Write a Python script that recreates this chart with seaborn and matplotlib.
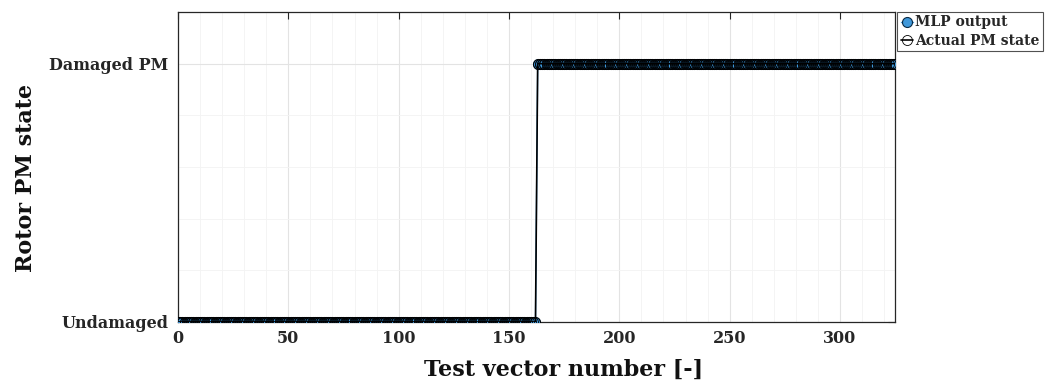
import numpy as np
import pandas as pd
import matplotlib
matplotlib.use("Agg")
import matplotlib.pyplot as plt
from matplotlib.ticker import MultipleLocator
import seaborn as sns

# Test vectors and rotor permanent-magnet states (0 = undamaged, 1 = damaged)
test_vector = list(range(326))
actual_state = [0] * 163 + [1] * 163
mlp_output = [0] * 163 + [1] * 163
state_labels = ["Undamaged", "Damaged PM"]
x_ticks = [0, 50, 100, 150, 200, 250, 300]

sns.set_style("white")
plt.rcParams["font.family"] = ["DejaVu Serif"]
plt.rcParams["font.weight"] = "bold"

df = pd.DataFrame({"x": test_vector, "actual": actual_state, "mlp": mlp_output})

fig = plt.figure(figsize=(10.47, 3.87), dpi=100)
ax = fig.add_axes([0.170, 0.168, 0.685, 0.801])

sns.lineplot(data=df, x="x", y="mlp", ax=ax, color="#3f98da", lw=1.0,
             marker="o", markersize=7.2, markerfacecolor="#3f98da",
             markeredgecolor="#0a2a44", markeredgewidth=0.8,
             label="MLP output", zorder=3)
sns.lineplot(data=df, x="x", y="actual", ax=ax, color="black", lw=1.2,
             marker="o", markersize=7.2, markerfacecolor="none",
             markeredgecolor="black", markeredgewidth=0.6,
             label="Actual PM state", zorder=4)

ax.set_xlim(0, 325)
ax.set_ylim(0, 1.2)
ax.set_xticks(x_ticks)
ax.set_yticks([0, 1])
ax.set_yticklabels(state_labels)
ax.xaxis.set_minor_locator(MultipleLocator(10))
ax.yaxis.set_minor_locator(MultipleLocator(0.2))
ax.grid(True, which="major", color="#e3e3e3", lw=0.8)
ax.grid(True, which="minor", color="#f3f3f3", lw=0.6)
ax.set_axisbelow(True)

ax.tick_params(which="major", direction="in", length=5, width=0.8,
               top=True, right=True, labelsize=11.5, colors="#262626")
ax.tick_params(axis="x", which="major", pad=6)
ax.tick_params(axis="y", which="major", pad=7)
ax.tick_params(which="minor", length=0)
for lbl in ax.get_xticklabels() + ax.get_yticklabels():
    lbl.set_fontweight("bold")

for sp in ax.spines.values():
    sp.set_color("#262626")
    sp.set_linewidth(0.9)

ax.set_xlabel("Test vector number [-]", fontsize=16, fontweight="bold",
              color="#111111")
ax.set_ylabel("Rotor PM state", fontsize=16, fontweight="bold",
              color="#111111")
ax.xaxis.set_label_coords(0.537, -0.118)
ax.yaxis.set_label_coords(-0.197, 0.465)

leg = ax.legend(loc="upper left", bbox_to_anchor=(1.003, 1.0),
                frameon=True, fancybox=False, fontsize=10,
                handlelength=0.9, handletextpad=0.1, borderpad=0.25,
                labelspacing=0.3, borderaxespad=0.0)
leg.get_frame().set_edgecolor("#262626")
leg.get_frame().set_linewidth(0.8)
for t in leg.get_texts():
    t.set_fontweight("bold")

fig.savefig("out.png", dpi=100)
